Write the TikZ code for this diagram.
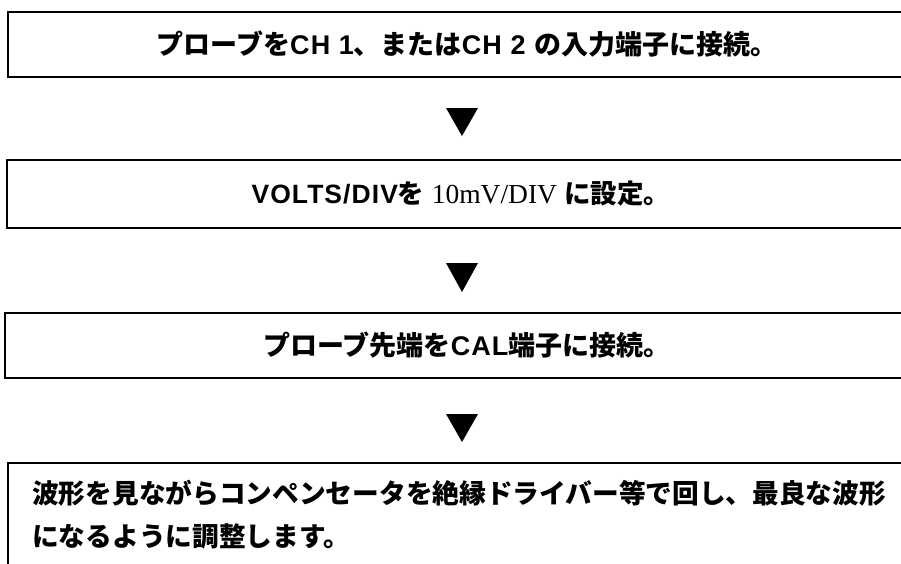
\documentclass[tikz,border=0pt]{standalone}
\usepackage{fontspec}
\setmainfont{Liberation Sans}
\newfontfamily\jpf{Noto Sans CJK JP}
\newfontfamily\serf{Liberation Serif}
\newfontfamily\helv{Liberation Sans}[LetterSpace=4]
\newcommand\jpt[1]{{\jpf\bfseries #1}}
\newcommand\hvt[1]{{\helv\bfseries #1}}
\newcommand\srt[1]{{\serf #1}}
\tikzset{
  box/.style={draw, line width=1.6pt, rectangle, inner sep=0pt},
  tri/.style={fill=black},
  txt/.style={inner sep=0pt}
}
\begin{document}
\begin{tikzpicture}[x=1pt,y=-1pt]
\clip (0,0) rectangle (901,563);
\fill[white] (0,0) rectangle (901,563);
% box 1
\node[box, minimum width=918pt, minimum height=65pt, font=\fontsize{27}{30}\selectfont] (b1) at (467,44.5)
  {\jpt{プローブを}\hvt{CH 1}\jpt{、または}\hvt{CH 2 }\jpt{の入力端子に接続。}};
\fill[tri] (446,108) -- (478,108) -- (462,136) -- cycle;
% box 2
\node[box, minimum width=908pt, minimum height=68pt, font=\fontsize{26.5}{30}\selectfont] (b2) at (461,194)
  {\hvt{VOLTS/DIV}\jpt{を} {\fontsize{27.5}{30}\selectfont\srt{10mV/DIV}} \jpt{に設定。}};
\fill[tri] (446,263) -- (478,263) -- (462,292) -- cycle;
% box 3
\node[box, minimum width=924pt, minimum height=65pt, font=\fontsize{27}{30}\selectfont] (b3) at (467,345.5)
  {\jpt{プローブ先端を}\hvt{CAL}\jpt{端子に接続。}};
\fill[tri] (446,414) -- (478,414) -- (462,442) -- cycle;
% box 4
\node[box, anchor=north west, minimum width=920pt, minimum height=130pt] (b4) at (7,462) {};
\node[txt, anchor=north west, align=left, font=\fontsize{26.7}{43}\selectfont] (t4) at (32,480)
  {\jpt{波形を見ながらコンペンセータを絶縁ドライバー等で回し、最良な波形}\\
   \jpt{になるように調整します。}};
\end{tikzpicture}
\end{document}
